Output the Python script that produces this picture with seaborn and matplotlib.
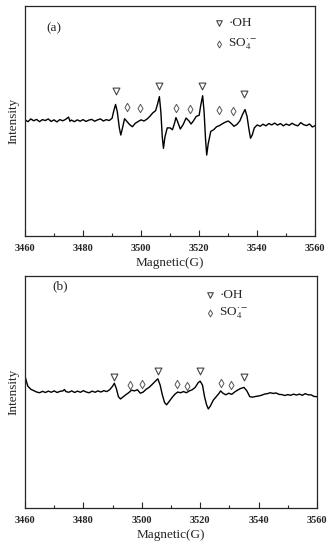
import matplotlib
matplotlib.use('Agg')
import matplotlib.pyplot as plt
import pandas as pd
import seaborn as sns

# EPR traces (field in G, intensity in axis fractions)
field_a = [3460, 3461, 3462, 3463, 3464, 3465, 3466, 3467, 3468, 3469, 3470, 3471, 3472, 3473, 3474, 3475,
           3475.5, 3476, 3477, 3478, 3479, 3480, 3481, 3482, 3483, 3484, 3485, 3486, 3487, 3488, 3489, 3490,
           3490.5, 3491.2, 3491.8, 3492.5, 3493, 3493.6, 3494.3, 3495, 3496, 3497, 3498, 3499, 3500, 3501,
           3502, 3503, 3504, 3505, 3505.7, 3506.3, 3506.8, 3507.3, 3507.7, 3508.2, 3509, 3510, 3510.8, 3511.5,
           3512, 3512.5, 3513.5, 3514.5, 3515.5, 3516.5, 3517.2, 3518, 3519, 3520, 3520.5, 3521.2, 3521.7,
           3522.2, 3522.6, 3523.1, 3524, 3525, 3526, 3527, 3528, 3529, 3530, 3531, 3532, 3533, 3534, 3535,
           3535.8, 3536.5, 3537.2, 3537.7, 3538.3, 3539, 3540, 3541, 3542, 3543, 3544, 3545, 3546, 3547,
           3548, 3549, 3550, 3551, 3552, 3553, 3554, 3555, 3556, 3557, 3558, 3559, 3560]
signal_a = [0.505, 0.497, 0.509, 0.501, 0.507, 0.497, 0.506, 0.502, 0.509, 0.498, 0.505, 0.496, 0.506, 0.501,
            0.507, 0.517, 0.499, 0.504, 0.497, 0.505, 0.499, 0.506, 0.498, 0.504, 0.507, 0.499, 0.505, 0.509,
            0.500, 0.506, 0.502, 0.512, 0.540, 0.572, 0.540, 0.470, 0.439, 0.470, 0.510, 0.500, 0.485, 0.475,
            0.490, 0.498, 0.505, 0.500, 0.508, 0.520, 0.535, 0.545, 0.575, 0.606, 0.540, 0.430, 0.381, 0.430,
            0.470, 0.470, 0.462, 0.490, 0.515, 0.500, 0.465, 0.485, 0.513, 0.500, 0.487, 0.500, 0.520, 0.525,
            0.565, 0.610, 0.540, 0.420, 0.352, 0.400, 0.455, 0.462, 0.475, 0.480, 0.488, 0.495, 0.500, 0.490,
            0.477, 0.485, 0.500, 0.530, 0.550, 0.520, 0.460, 0.425, 0.440, 0.470, 0.483, 0.477, 0.486, 0.479,
            0.489, 0.483, 0.491, 0.482, 0.489, 0.479, 0.487, 0.481, 0.490, 0.483, 0.479, 0.493, 0.484, 0.480,
            0.487, 0.474, 0.480]

field_b = [3460, 3460.5, 3461, 3462, 3463, 3464, 3465, 3466, 3467, 3468, 3469, 3470, 3471, 3472, 3473,
           3473.5, 3474, 3475, 3476, 3477, 3478, 3479, 3480, 3481, 3482, 3483, 3484, 3485, 3486, 3487, 3488,
           3489, 3490, 3490.6, 3491.3, 3492, 3492.7, 3493.5, 3494.5, 3495.5, 3496.5, 3497.5, 3498.5, 3499.5,
           3500.5, 3501.5, 3502.5, 3503.5, 3504.5, 3505.5, 3506.3, 3507, 3507.8, 3508.5, 3509.3, 3510.3,
           3511.3, 3512.3, 3513.3, 3514.3, 3515.3, 3516.3, 3517.3, 3518.3, 3519.3, 3520, 3520.8, 3521.5,
           3522.2, 3522.8, 3523.5, 3524.5, 3525.5, 3526.5, 3527, 3527.8, 3528.8, 3529.8, 3530.8, 3531.8,
           3532.8, 3533.8, 3535, 3536, 3537, 3538, 3539, 3540, 3541, 3542, 3543, 3544, 3545, 3546, 3547,
           3548, 3549, 3550, 3551, 3552, 3553, 3554, 3555, 3556, 3557, 3558, 3559, 3560]
signal_b = [0.570, 0.545, 0.525, 0.512, 0.506, 0.500, 0.497, 0.503, 0.498, 0.504, 0.499, 0.505, 0.498,
            0.503, 0.505, 0.511, 0.502, 0.499, 0.505, 0.498, 0.504, 0.499, 0.506, 0.500, 0.497, 0.504, 0.499,
            0.505, 0.500, 0.506, 0.502, 0.510, 0.525, 0.538, 0.515, 0.480, 0.470, 0.478, 0.488, 0.497, 0.508,
            0.505, 0.510, 0.495, 0.500, 0.512, 0.520, 0.532, 0.545, 0.557, 0.530, 0.490, 0.455, 0.445, 0.458,
            0.475, 0.490, 0.500, 0.497, 0.502, 0.497, 0.505, 0.510, 0.520, 0.540, 0.547, 0.530, 0.480, 0.445,
            0.427, 0.440, 0.465, 0.480, 0.495, 0.505, 0.495, 0.488, 0.495, 0.490, 0.500, 0.508, 0.515, 0.520,
            0.505, 0.480, 0.478, 0.481, 0.483, 0.486, 0.491, 0.493, 0.497, 0.494, 0.496, 0.490, 0.489, 0.485,
            0.489, 0.486, 0.491, 0.487, 0.491, 0.486, 0.493, 0.488, 0.488, 0.481, 0.480]

# peak markers
oh_a_x = [3491.5, 3506, 3521, 3535.5]
oh_a_y = [0.632, 0.654, 0.652, 0.616]
so4_a_x = [3495, 3499.5, 3512, 3517, 3527, 3531.5]
so4_a_y = [0.562, 0.555, 0.555, 0.552, 0.548, 0.545]

oh_b_x = [3490.5, 3505.5, 3520, 3535]
oh_b_y = [0.564, 0.591, 0.591, 0.566]
so4_b_x = [3496, 3500, 3512, 3515.5, 3527, 3530.5]
so4_b_y = [0.531, 0.534, 0.535, 0.528, 0.538, 0.531]

panels = [
    ('(a)', field_a, signal_a, oh_a_x, oh_a_y, so4_a_x, so4_a_y, (3467.5, 0.905), (3527, 0.925, 0.833)),
    ('(b)', field_b, signal_b, oh_b_x, oh_b_y, so4_b_x, so4_b_y, (3469.5, 0.955), (3523.5, 0.918, 0.839)),
]

sns.set_style('ticks')
plt.rcParams['font.family'] = ['Liberation Serif', 'DejaVu Serif']
plt.rcParams['mathtext.fontset'] = 'stix'

fig = plt.figure(figsize=(3.31, 5.5), dpi=100)
ax_a = fig.add_axes([0.0755, 0.571, 0.877, 0.418])
ax_b = fig.add_axes([0.0755, 0.0764, 0.882, 0.4216])

for ax, (tag, fx, fy, ohx, ohy, sox, soy, tagpos, legpos) in zip([ax_a, ax_b], panels):
    df = pd.DataFrame({'field': fx, 'signal': fy})
    sns.lineplot(data=df, x='field', y='signal', ax=ax, color='black', linewidth=1.0,
                 estimator=None, sort=False)
    ax.scatter(ohx, ohy, marker='v', s=24, facecolors='white', edgecolors='#444444', linewidths=0.8, zorder=3)
    ax.scatter(sox, soy, marker='d', s=18, facecolors='white', edgecolors='#555555', linewidths=0.7, zorder=3)

    # legend drawn as markers + text
    lx, ly1, ly2 = legpos
    ax.scatter([lx], [ly1], marker='v', s=16, facecolors='white', edgecolors='#444444', linewidths=0.8)
    ax.scatter([lx], [ly2], marker='d', s=12, facecolors='white', edgecolors='#555555', linewidths=0.7)
    ax.text(lx + 3, ly1, '\u00b7OH', fontsize=9.5, va='center', ha='left')
    ax.text(lx + 3, ly2, r'SO$_4^{\cdot-}$', fontsize=9.5, va='center', ha='left')
    ax.text(tagpos[0], tagpos[1], tag, fontsize=9.5, va='center', ha='left')

    ax.set_xlim(3460, 3560)
    ax.set_ylim(0, 1)
    ax.set_xticks([3460, 3480, 3500, 3520, 3540, 3560])
    ax.set_xticks([3470, 3490, 3510, 3530, 3550], minor=True)
    ax.set_yticks([])
    ax.tick_params(axis='x', which='major', direction='in', length=4, width=0.8, labelsize=7.5, pad=6)
    ax.tick_params(axis='x', which='minor', direction='in', length=2.5, width=0.8)
    for lab in ax.get_xticklabels():
        lab.set_fontweight('bold')
    for sp in ax.spines.values():
        sp.set_visible(True)
        sp.set_linewidth(0.9)
    ax.set_xlabel('Magnetic(G)', fontsize=9.5, labelpad=3)
    ax.set_ylabel('Intensity', fontsize=9.5, labelpad=4)

fig.savefig('out.png', dpi=100)
